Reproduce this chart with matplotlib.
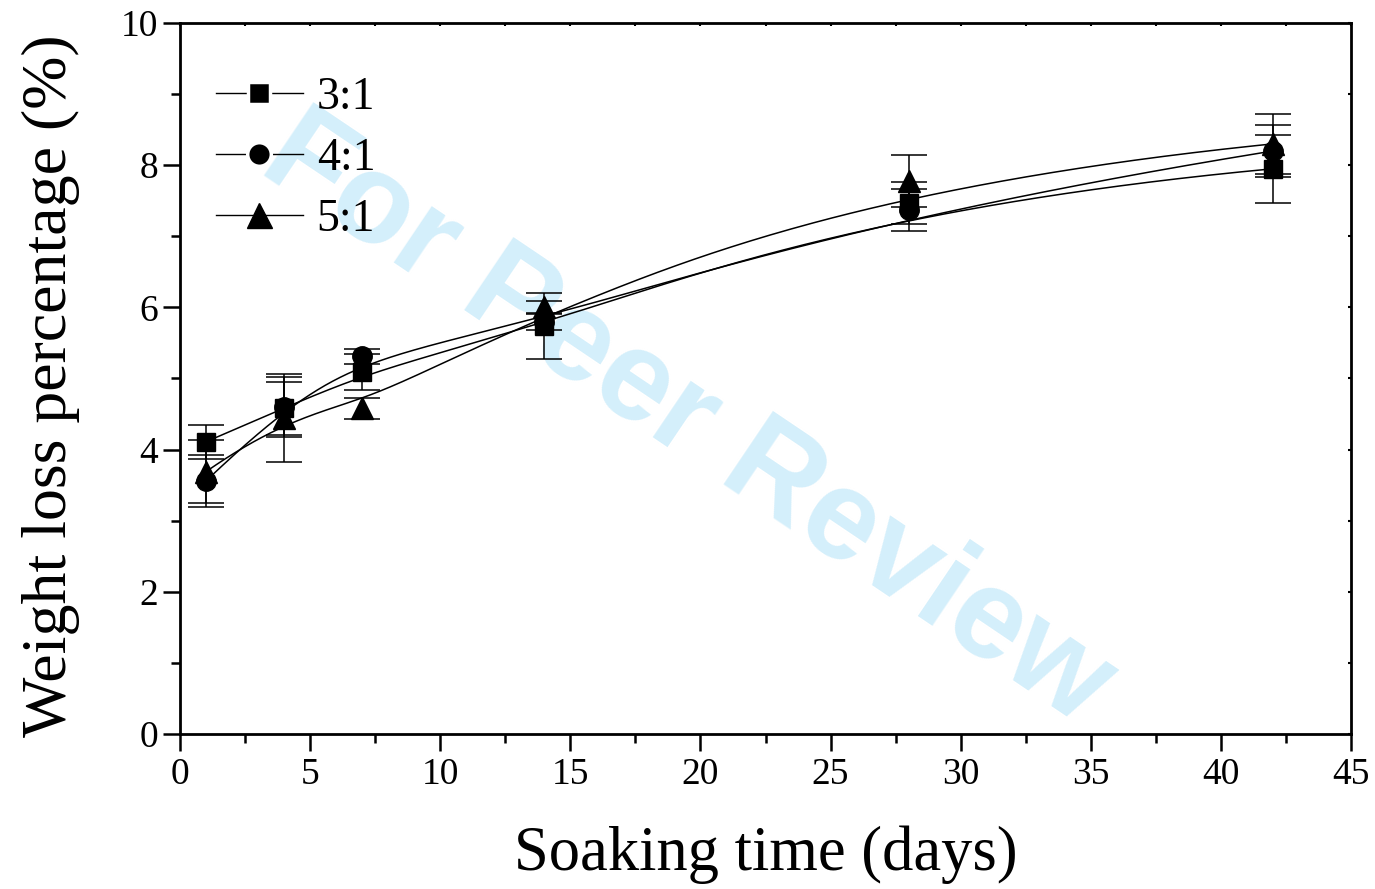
import numpy as np
import matplotlib
matplotlib.use("Agg")
import matplotlib.pyplot as plt
from matplotlib.lines import Line2D
from matplotlib.ticker import MultipleLocator

# ---------------- data ----------------
days = [1, 4, 7, 14, 28, 42]
labels = ["3:1", "4:1", "5:1"]
loss_31 = [4.11, 4.58, 5.09, 5.74, 7.47, 7.95]
err_31 = [0.24, 0.37, 0.25, 0.46, 0.30, 0.48]
loss_41 = [3.56, 4.60, 5.31, 5.80, 7.37, 8.20]
err_41 = [0.37, 0.42, 0.10, 0.12, 0.30, 0.37]
loss_51 = [3.69, 4.45, 4.58, 6.00, 7.78, 8.30]
err_51 = [0.44, 0.62, 0.15, 0.09, 0.37, 0.42]
markers = ["s", "o", "^"]
msizes = [13, 14, 16]
leg_msizes = [16, 17, 18]

plt.rcParams["font.family"] = ["Liberation Serif", "DejaVu Serif"]


def bspline(xs, ys, k=3, n=400):
    """Clamped uniform B-spline using the data points as control points."""
    P = np.column_stack([xs, ys]).astype(float)
    m = len(P)
    k = min(k, m - 1)
    inner = np.linspace(0, 1, m - k + 1)
    t = np.concatenate([np.zeros(k), inner, np.ones(k)])
    u = np.linspace(0, 1, n)
    u[-1] = 1 - 1e-12
    N = np.zeros((n, len(t) - 1))
    for i in range(len(t) - 1):
        N[:, i] = ((u >= t[i]) & (u < t[i + 1])).astype(float)
    for d in range(1, k + 1):
        Nn = np.zeros((n, len(t) - 1 - d))
        for i in range(len(t) - 1 - d):
            a = np.zeros(n)
            b = np.zeros(n)
            if t[i + d] - t[i] > 0:
                a = (u - t[i]) / (t[i + d] - t[i]) * N[:, i]
            if t[i + d + 1] - t[i + 1] > 0:
                b = (t[i + d + 1] - u) / (t[i + d + 1] - t[i + 1]) * N[:, i + 1]
            Nn[:, i] = a + b
        N = Nn
    C = N @ P
    return C[:, 0], C[:, 1]


fig = plt.figure(figsize=(13.75, 8.89), dpi=100)
ax = fig.add_axes([180 / 1375, 1 - 734 / 889, (1351 - 180) / 1375, (734 - 23) / 889])

series = [(loss_31, err_31), (loss_41, err_41), (loss_51, err_51)]
handles = []
for (ys, es), mk, ms, lms, lab in zip(series, markers, msizes, leg_msizes, labels):
    cx, cy = bspline(days, ys)
    ax.plot(cx, cy, color="black", lw=1.1, zorder=2)
    ax.errorbar(days, ys, yerr=es, fmt="none", ecolor="black", elinewidth=1.1,
                capsize=13, capthick=1.1, zorder=3)
    ax.plot(days, ys, linestyle="none", marker=mk, markersize=ms, color="black", zorder=4)
    handles.append(Line2D([], [], color="black", lw=1.0, marker=mk, markersize=lms,
                          markerfacecolor="black",
                          markeredgecolor="white" if mk != "^" else "black",
                          markeredgewidth=2.5 if mk != "^" else 1.0, label=lab))

ax.set_xlim(0, 45)
ax.set_ylim(0, 10)
ax.xaxis.set_major_locator(MultipleLocator(5))
ax.xaxis.set_minor_locator(MultipleLocator(2.5))
ax.yaxis.set_major_locator(MultipleLocator(2))
ax.yaxis.set_minor_locator(MultipleLocator(1))

for s in ax.spines.values():
    s.set_linewidth(2.0)

ax.tick_params(which="major", direction="out", length=12, width=1.8, labelsize=27,
               top=False, right=False)
ax.tick_params(which="minor", direction="out", length=6.5, width=1.8,
               top=False, right=False)
ax.tick_params(axis="x", which="major", pad=5)
ax.tick_params(axis="y", which="major", pad=4)

# tiny inward ticks on top / right
sec_x = ax.secondary_xaxis("top")
sec_x.xaxis.set_major_locator(MultipleLocator(2.5))
sec_x.tick_params(direction="in", length=2, width=1.5, labeltop=False)
sec_x.spines["top"].set_visible(False)
sec_y = ax.secondary_yaxis("right")
sec_y.yaxis.set_major_locator(MultipleLocator(1))
sec_y.tick_params(direction="in", length=2, width=1.5, labelright=False)
sec_y.spines["right"].set_visible(False)

ax.set_xlabel("Soaking time (days)", fontsize=45)
ax.set_ylabel("Weight loss percentage (%)", fontsize=46)
ax.xaxis.set_label_coords(0.5, -0.128)
ax.yaxis.set_label_coords(-0.085, 0.49)

leg = ax.legend(handles=handles, loc="upper left", bbox_to_anchor=(0.015, 0.95),
                frameon=False, fontsize=33, handlelength=1.9, handletextpad=0.3,
                labelspacing=0.4, borderaxespad=0)

ax.text(0.433, 0.44, "For Peer Review", transform=ax.transAxes, rotation=-34,
        rotation_mode="anchor", ha="center", va="center", fontsize=92,
        fontweight="bold", family="Liberation Sans", color="#d4effb", zorder=0)

fig.savefig("out.png", dpi=100)
